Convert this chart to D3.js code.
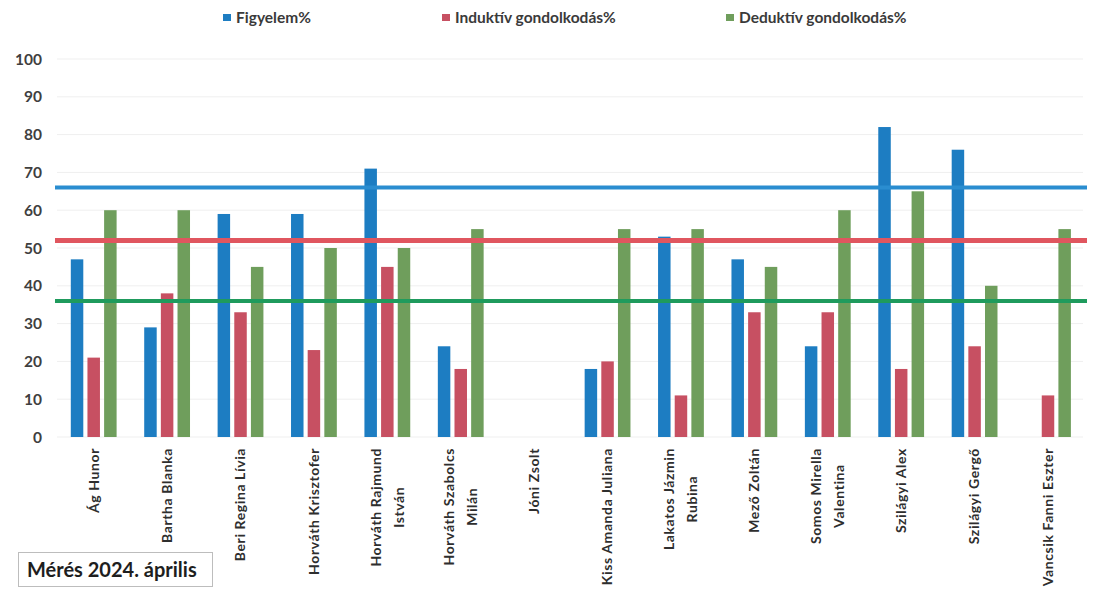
<!DOCTYPE html>
<html><head><meta charset="utf-8">
<script src="https://cdn.jsdelivr.net/npm/d3@7"></script>
<style>
body{margin:0;background:#fff;}
svg{display:block;font-family:Lato,"Open Sans",sans-serif;}
</style></head>
<body><svg id="c" width="1113" height="591"></svg>
<script>
const categories = [
  ["Ág Hunor"], ["Bartha Blanka"], ["Beri Regina Lívia"], ["Horváth Krisztofer"],
  ["Horváth Rajmund","István"], ["Horváth Szabolcs","Milán"], ["Jóni Zsolt"],
  ["Kiss Amanda Juliana"], ["Lakatos Jázmin","Rubina"], ["Mező Zoltán"],
  ["Somos Mirella","Valentina"], ["Szilágyi Alex"], ["Szilágyi Gergő"], ["Vancsik Fanni Eszter"]
];
const seriesNames = ["Figyelem%", "Induktív gondolkodás%", "Deduktív gondolkodás%"];
const figyelem = [47, 29, 59, 59, 71, 24, null, 18, 53, 47, 24, 82, 76, null];
const induktiv = [21, 38, 33, 23, 45, 18, null, 20, 11, 33, 33, 18, 24, 11];
const deduktiv = [60, 60, 45, 50, 50, 55, null, 55, 55, 45, 60, 65, 40, 55];
const averages = [66, 52, 36];
const yTicks = [0,10,20,30,40,50,60,70,80,90,100];
const boxLabel = "Mérés 2024. április";

const barColors = ["#1d7dc2", "#c75062", "#6f9e5c"];
const lineColors = ["#2a8dd0", "#e0565f", "#1f9b5d"];
const lineWidths = [4, 5, 4];
const legendX = [223, 442, 726];

const svg = d3.select("#c");
const seriesData = [figyelem, induktiv, deduktiv];
const idx = d3.range(categories.length);

const x0 = d3.scaleBand().domain(idx).range([57, 1084.7]).paddingInner(0.376).paddingOuter(0.188);
const x1 = d3.scaleBand().domain([0,1,2]).range([0, x0.bandwidth()]).paddingInner(0.25);
const y = d3.scaleLinear().domain([0, 100]).range([437, 59]);

// gridlines
svg.append("g").selectAll("line").data(yTicks).join("line")
  .attr("x1", 57).attr("x2", 1083)
  .attr("y1", d => y(d)).attr("y2", d => y(d))
  .attr("stroke", "#efefef").attr("stroke-width", 1);

// y tick labels
svg.append("g").selectAll("text").data(yTicks).join("text")
  .attr("x", 42).attr("y", d => y(d)).attr("dy", "0.36em")
  .attr("text-anchor", "end").attr("font-size", 15.5).attr("font-weight", 700)
  .attr("fill", "#3f3f3f").text(d => d);

// bars
seriesData.forEach((arr, s) => {
  svg.append("g").selectAll("rect").data(idx.filter(i => arr[i] != null)).join("rect")
    .attr("x", i => x0(i) + x1(s)).attr("width", x1.bandwidth())
    .attr("y", i => y(arr[i])).attr("height", i => y(0) - y(arr[i]))
    .attr("fill", barColors[s]);
});

// average lines
averages.forEach((v, s) => {
  svg.append("line").attr("x1", 55).attr("x2", 1087)
    .attr("y1", y(v)).attr("y2", y(v))
    .attr("stroke", lineColors[s]).attr("stroke-width", lineWidths[s]);
});

// category labels
const labelTop = 448, lineGap = 23;
idx.forEach(i => {
  const lines = categories[i];
  const cx = x0(i) + x0.bandwidth() / 2;
  const g = svg.append("g").attr("transform", `translate(${cx},${labelTop}) rotate(-90)`);
  const texts = lines.map((t, k) => g.append("text")
    .attr("font-size", 14).attr("font-weight", 700).attr("fill", "#2e2e2e")
    .attr("letter-spacing", 0.6)
    .attr("text-anchor", "middle")
    .attr("y", (k - (lines.length - 1) / 2) * lineGap).attr("dy", "0.35em").text(t));
  const maxLen = d3.max(texts, t => t.node().getComputedTextLength());
  texts.forEach(t => t.attr("x", -maxLen / 2));
});

// legend
seriesNames.forEach((n, s) => {
  svg.append("rect").attr("x", legendX[s]).attr("y", 14).attr("width", 8).attr("height", 7)
    .attr("fill", barColors[s]);
  svg.append("text").attr("x", legendX[s] + 13).attr("y", 18).attr("dy", "0.35em")
    .attr("font-size", 15.5).attr("font-weight", 700).attr("fill", "#3a3a3a").text(n);
});

// box label
svg.append("rect").attr("x", 18.5).attr("y", 552.5).attr("width", 194).attr("height", 34)
  .attr("fill", "#fff").attr("stroke", "#bdbdbd").attr("stroke-width", 1);
svg.append("text").attr("x", 27).attr("y", 577).attr("font-size", 20).attr("font-weight", 700)
  .attr("fill", "#1e1e1e").text(boxLabel);
</script>
</body></html>
